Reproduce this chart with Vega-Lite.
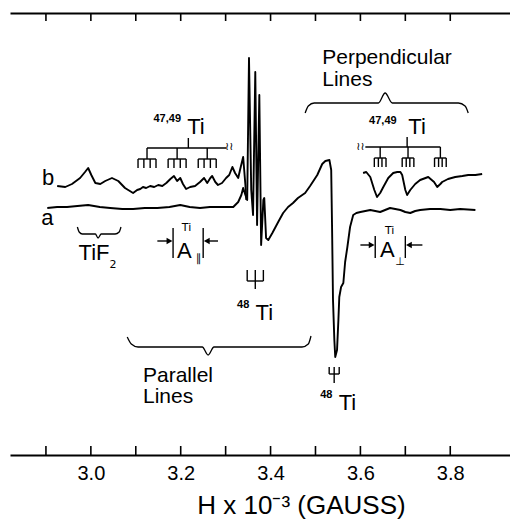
{
"$schema":"https://vega.github.io/schema/vega-lite/v6.json",
"width":500,"height":442,
"autosize":{"type":"none"},
"padding":{"left":10,"top":13,"right":0,"bottom":65},
"background":"white",
"config":{"view":{"stroke":null},"font":"Liberation Sans"},
"datasets":{
"spectrum":[
{"trace":"a","x":2.903,"y":247},{"trace":"a","x":2.925,"y":248},{"trace":"a","x":2.947,"y":248},{"trace":"a","x":2.970,"y":249},{"trace":"a","x":2.994,"y":250},{"trace":"a","x":3.020,"y":248},{"trace":"a","x":3.043,"y":247},{"trace":"a","x":3.070,"y":246},{"trace":"a","x":3.094,"y":246},{"trace":"a","x":3.120,"y":247},{"trace":"a","x":3.148,"y":247},{"trace":"a","x":3.175,"y":248},{"trace":"a","x":3.199,"y":250},{"trace":"a","x":3.220,"y":248},{"trace":"a","x":3.243,"y":247},{"trace":"a","x":3.265,"y":248},{"trace":"a","x":3.288,"y":248},{"trace":"a","x":3.317,"y":248},{"trace":"a","x":3.328,"y":253},{"trace":"a","x":3.335,"y":260},{"trace":"a","x":3.339,"y":267},{"trace":"a","x":3.344,"y":260},{"trace":"a","x":3.348,"y":255},{"trace":"a","x":3.352,"y":397},{"trace":"a","x":3.357,"y":265},{"trace":"a","x":3.361,"y":240},{"trace":"a","x":3.366,"y":383},{"trace":"a","x":3.370,"y":230},{"trace":"a","x":3.375,"y":360},{"trace":"a","x":3.379,"y":210},{"trace":"a","x":3.384,"y":255},{"trace":"a","x":3.386,"y":257},{"trace":"a","x":3.390,"y":217},{"trace":"a","x":3.395,"y":215},{"trace":"a","x":3.404,"y":222},{"trace":"a","x":3.417,"y":233},{"trace":"a","x":3.428,"y":242},{"trace":"a","x":3.439,"y":248},{"trace":"a","x":3.450,"y":252},{"trace":"a","x":3.461,"y":257},{"trace":"a","x":3.477,"y":262},{"trace":"a","x":3.488,"y":269},{"trace":"a","x":3.504,"y":280},{"trace":"a","x":3.515,"y":291},{"trace":"a","x":3.522,"y":294},{"trace":"a","x":3.531,"y":295},{"trace":"a","x":3.535,"y":285},{"trace":"a","x":3.537,"y":225},{"trace":"a","x":3.539,"y":155},{"trace":"a","x":3.542,"y":115},{"trace":"a","x":3.544,"y":98},{"trace":"a","x":3.548,"y":105},{"trace":"a","x":3.551,"y":135},{"trace":"a","x":3.553,"y":158},{"trace":"a","x":3.557,"y":168},{"trace":"a","x":3.562,"y":172},{"trace":"a","x":3.566,"y":193},{"trace":"a","x":3.571,"y":208},{"trace":"a","x":3.577,"y":228},{"trace":"a","x":3.584,"y":240},{"trace":"a","x":3.591,"y":242},{"trace":"a","x":3.600,"y":243},{"trace":"a","x":3.622,"y":245},{"trace":"a","x":3.644,"y":243},{"trace":"a","x":3.666,"y":247},{"trace":"a","x":3.689,"y":245},{"trace":"a","x":3.700,"y":243},{"trace":"a","x":3.711,"y":242},{"trace":"a","x":3.722,"y":244},{"trace":"a","x":3.733,"y":245},{"trace":"a","x":3.755,"y":246},{"trace":"a","x":3.778,"y":246},{"trace":"a","x":3.800,"y":245},{"trace":"a","x":3.822,"y":246},{"trace":"a","x":3.856,"y":245},
{"trace":"b","x":2.925,"y":269},{"trace":"b","x":2.943,"y":268},{"trace":"b","x":2.958,"y":271},{"trace":"b","x":2.976,"y":277},{"trace":"b","x":2.987,"y":283},{"trace":"b","x":2.994,"y":287},{"trace":"b","x":3.001,"y":280},{"trace":"b","x":3.010,"y":272},{"trace":"b","x":3.021,"y":271},{"trace":"b","x":3.032,"y":274},{"trace":"b","x":3.047,"y":277},{"trace":"b","x":3.061,"y":274},{"trace":"b","x":3.076,"y":267},{"trace":"b","x":3.094,"y":262},{"trace":"b","x":3.103,"y":265},{"trace":"b","x":3.110,"y":266},{"trace":"b","x":3.116,"y":268},{"trace":"b","x":3.123,"y":267},{"trace":"b","x":3.132,"y":269},{"trace":"b","x":3.141,"y":268},{"trace":"b","x":3.150,"y":270},{"trace":"b","x":3.159,"y":269},{"trace":"b","x":3.168,"y":272},{"trace":"b","x":3.177,"y":276},{"trace":"b","x":3.185,"y":279},{"trace":"b","x":3.192,"y":274},{"trace":"b","x":3.199,"y":277},{"trace":"b","x":3.205,"y":271},{"trace":"b","x":3.212,"y":266},{"trace":"b","x":3.221,"y":268},{"trace":"b","x":3.232,"y":269},{"trace":"b","x":3.243,"y":273},{"trace":"b","x":3.252,"y":277},{"trace":"b","x":3.259,"y":272},{"trace":"b","x":3.266,"y":277},{"trace":"b","x":3.270,"y":279},{"trace":"b","x":3.277,"y":273},{"trace":"b","x":3.283,"y":270},{"trace":"b","x":3.292,"y":272},{"trace":"b","x":3.301,"y":277},{"trace":"b","x":3.308,"y":280},{"trace":"b","x":3.315,"y":288},{"trace":"b","x":3.321,"y":282},{"trace":"b","x":3.328,"y":277},{"trace":"b","x":3.332,"y":285},{"trace":"b","x":3.339,"y":298},{"trace":"b","x":3.344,"y":270},{"trace":"b","x":3.346,"y":255},
{"trace":"b2","x":3.606,"y":282},{"trace":"b2","x":3.613,"y":283},{"trace":"b2","x":3.622,"y":278},{"trace":"b2","x":3.631,"y":265},{"trace":"b2","x":3.637,"y":258},{"trace":"b2","x":3.644,"y":262},{"trace":"b2","x":3.651,"y":268},{"trace":"b2","x":3.662,"y":277},{"trace":"b2","x":3.673,"y":282},{"trace":"b2","x":3.682,"y":283},{"trace":"b2","x":3.689,"y":283},{"trace":"b2","x":3.693,"y":280},{"trace":"b2","x":3.700,"y":265},{"trace":"b2","x":3.704,"y":260},{"trace":"b2","x":3.711,"y":265},{"trace":"b2","x":3.722,"y":271},{"trace":"b2","x":3.733,"y":275},{"trace":"b2","x":3.751,"y":278},{"trace":"b2","x":3.764,"y":273},{"trace":"b2","x":3.771,"y":268},{"trace":"b2","x":3.778,"y":271},{"trace":"b2","x":3.782,"y":273},{"trace":"b2","x":3.795,"y":276},{"trace":"b2","x":3.811,"y":278},{"trace":"b2","x":3.827,"y":279},{"trace":"b2","x":3.840,"y":280},{"trace":"b2","x":3.856,"y":280},{"trace":"b2","x":3.871,"y":281}
],
"ticks":[{"x":2.9},{"x":3.0},{"x":3.1},{"x":3.2},{"x":3.3},{"x":3.4},{"x":3.5},{"x":3.6},{"x":3.7},{"x":3.8}],
"braces":[
{"g":"tif","x":2.970,"y":228},{"g":"tif","x":2.974,"y":223},{"g":"tif","x":2.981,"y":221},{"g":"tif","x":3.010,"y":221},{"g":"tif","x":3.016,"y":217},{"g":"tif","x":3.023,"y":221},{"g":"tif","x":3.054,"y":221},{"g":"tif","x":3.063,"y":223},{"g":"tif","x":3.067,"y":228},
{"g":"perp","x":3.477,"y":342},{"g":"perp","x":3.484,"y":349},{"g":"perp","x":3.497,"y":352},{"g":"perp","x":3.640,"y":352},{"g":"perp","x":3.655,"y":362},{"g":"perp","x":3.671,"y":352},{"g":"perp","x":3.818,"y":352},{"g":"perp","x":3.833,"y":349},{"g":"perp","x":3.840,"y":342},
{"g":"par","x":3.081,"y":118},{"g":"par","x":3.090,"y":111},{"g":"par","x":3.105,"y":108},{"g":"par","x":3.248,"y":108},{"g":"par","x":3.261,"y":100},{"g":"par","x":3.274,"y":108},{"g":"par","x":3.470,"y":108},{"g":"par","x":3.484,"y":111},{"g":"par","x":3.490,"y":119}
],
"segments":[
{"x":3.217,"y":307,"x2":3.217,"y2":317},{"x":3.125,"y":307,"x2":3.301,"y2":307},
{"x":3.125,"y":307,"x2":3.125,"y2":296},{"x":3.192,"y":307,"x2":3.192,"y2":296},{"x":3.259,"y":307,"x2":3.259,"y2":296},
{"x":3.105,"y":296,"x2":3.145,"y2":296},{"x":3.172,"y":296,"x2":3.212,"y2":296},{"x":3.239,"y":296,"x2":3.279,"y2":296},
{"x":3.105,"y":296,"x2":3.105,"y2":287},{"x":3.118,"y":296,"x2":3.118,"y2":287},{"x":3.132,"y":296,"x2":3.132,"y2":287},{"x":3.145,"y":296,"x2":3.145,"y2":287},
{"x":3.172,"y":296,"x2":3.172,"y2":287},{"x":3.185,"y":296,"x2":3.185,"y2":287},{"x":3.199,"y":296,"x2":3.199,"y2":287},{"x":3.212,"y":296,"x2":3.212,"y2":287},
{"x":3.239,"y":296,"x2":3.239,"y2":287},{"x":3.252,"y":296,"x2":3.252,"y2":287},{"x":3.266,"y":296,"x2":3.266,"y2":287},{"x":3.279,"y":296,"x2":3.279,"y2":287},
{"x":3.704,"y":308,"x2":3.704,"y2":318},{"x":3.611,"y":308,"x2":3.778,"y2":308},
{"x":3.644,"y":308,"x2":3.644,"y2":297},{"x":3.706,"y":308,"x2":3.706,"y2":297},{"x":3.778,"y":308,"x2":3.778,"y2":297},
{"x":3.631,"y":297,"x2":3.657,"y2":297},{"x":3.693,"y":297,"x2":3.719,"y2":297},{"x":3.765,"y":297,"x2":3.791,"y2":297},
{"x":3.631,"y":297,"x2":3.631,"y2":288},{"x":3.640,"y":297,"x2":3.640,"y2":288},{"x":3.648,"y":297,"x2":3.648,"y2":288},{"x":3.657,"y":297,"x2":3.657,"y2":288},
{"x":3.693,"y":297,"x2":3.693,"y2":288},{"x":3.702,"y":297,"x2":3.702,"y2":288},{"x":3.710,"y":297,"x2":3.710,"y2":288},{"x":3.719,"y":297,"x2":3.719,"y2":288},
{"x":3.765,"y":297,"x2":3.765,"y2":288},{"x":3.774,"y":297,"x2":3.774,"y2":288},{"x":3.782,"y":297,"x2":3.782,"y2":288},{"x":3.791,"y":297,"x2":3.791,"y2":288},
{"x":3.183,"y":197,"x2":3.183,"y2":227},{"x":3.250,"y":197,"x2":3.250,"y2":227},
{"x":3.148,"y":214,"x2":3.174,"y2":214},{"x":3.259,"y":214,"x2":3.283,"y2":214},
{"x":3.633,"y":197,"x2":3.633,"y2":219},{"x":3.700,"y":197,"x2":3.700,"y2":219},
{"x":3.600,"y":210,"x2":3.624,"y2":210},{"x":3.709,"y":210,"x2":3.738,"y2":210},
{"x":3.348,"y":174,"x2":3.348,"y2":185},{"x":3.366,"y":174,"x2":3.366,"y2":185},{"x":3.384,"y":174,"x2":3.384,"y2":185},{"x":3.348,"y":174,"x2":3.384,"y2":174},{"x":3.366,"y":174,"x2":3.366,"y2":166},
{"x":3.5305,"y":81,"x2":3.5305,"y2":88},{"x":3.5416,"y":81,"x2":3.5416,"y2":88},{"x":3.5528,"y":81,"x2":3.5528,"y2":88},{"x":3.5305,"y":81,"x2":3.5528,"y2":81},{"x":3.5416,"y":81,"x2":3.5416,"y2":72}
],
"heads":[
{"x":3.175,"y":214,"dir":"right"},{"x":3.258,"y":214,"dir":"left"},
{"x":3.625,"y":210,"dir":"right"},{"x":3.708,"y":210,"dir":"left"}
],
"bigText":[
{"x":3.515,"y":397,"t":"Perpendicular"},{"x":3.515,"y":375,"t":"Lines"},
{"x":3.116,"y":79,"t":"Parallel"},{"x":3.116,"y":58,"t":"Lines"}
],
"midText":[
{"x":3.234,"y":328,"t":"Ti"},{"x":3.726,"y":328,"t":"Ti"},{"x":3.386,"y":142,"t":"Ti"},{"x":3.571,"y":52,"t":"Ti"},
{"x":3.007,"y":202,"t":"TiF"},{"x":3.208,"y":204,"t":"A"},{"x":3.660,"y":205,"t":"A"},
{"x":2.903,"y":237,"t":"a"},{"x":2.905,"y":277,"t":"b"}
],
"boldText":[
{"x":3.170,"y":336,"t":"47,49"},{"x":3.650,"y":334,"t":"47,49"},{"x":3.339,"y":150,"t":"48"},{"x":3.524,"y":60,"t":"48"}
],
"smallText":[
{"x":3.213,"y":227,"t":"Ti"},{"x":3.240,"y":196,"t":"∥"},{"x":3.665,"y":224,"t":"Ti"},{"x":3.688,"y":193,"t":"⊥"},
{"x":3.049,"y":190,"t":"2"},{"x":3.308,"y":308,"t":"≀≀"},{"x":3.600,"y":308,"t":"≀≀"}
]
},
"layer":[
{"data":{"name":"spectrum"},
 "mark":{"type":"line","color":"black","strokeWidth":1.9,"strokeJoin":"round","clip":false},
 "encoding":{
  "x":{"field":"x","type":"quantitative","scale":{"domain":[2.82,3.933],"nice":false,"zero":false},
   "axis":{"orient":"bottom","values":[3.0,3.2,3.4,3.6,3.8],"format":".1f",
    "ticks":false,"tickSize":0,"domainColor":"black","domainWidth":2,"grid":false,
    "labelFontSize":20,"labelColor":"black","labelPadding":8,"labelFont":"Liberation Sans",
    "title":"H x 10⁻³ (GAUSS)","titleFontSize":26,"titleFontWeight":"normal","titleColor":"black","titleFont":"Liberation Sans",
    "titleX":291,"titleY":58,"titleBaseline":"alphabetic","titleAlign":"center","titleAngle":0}},
  "y":{"field":"y","type":"quantitative","scale":{"domain":[0,442],"nice":false,"zero":false},
   "axis":{"orient":"left","domain":true,"domainColor":"black","domainWidth":2,"ticks":false,"labels":false,"grid":false,"title":null}},
  "detail":{"field":"trace","type":"nominal"}}},
{"data":{"name":"braces"},
 "mark":{"type":"line","color":"black","strokeWidth":1.3,"interpolate":"monotone"},
 "encoding":{
  "x":{"field":"x","type":"quantitative","scale":{"domain":[2.82,3.933],"nice":false,"zero":false},
   "axis":{"orient":"top","labels":false,"ticks":false,"domainColor":"black","domainWidth":2,"grid":false,"title":null}},
  "y":{"field":"y","type":"quantitative","scale":{"domain":[0,442],"nice":false,"zero":false},"axis":null},
  "detail":{"field":"g","type":"nominal"}}},
{"data":{"name":"ticks"},
 "mark":{"type":"rule","color":"black","strokeWidth":1.6},
 "encoding":{
  "x":{"field":"x","type":"quantitative","scale":{"domain":[2.82,3.933],"nice":false,"zero":false},"axis":null},
  "y":{"datum":0,"scale":{"domain":[0,442],"nice":false,"zero":false},"axis":null},
  "y2":{"datum":9}}},
{"data":{"name":"ticks"},
 "mark":{"type":"rule","color":"black","strokeWidth":1.6},
 "encoding":{
  "x":{"field":"x","type":"quantitative","scale":{"domain":[2.82,3.933],"nice":false,"zero":false},"axis":null},
  "y":{"datum":442,"scale":{"domain":[0,442],"nice":false,"zero":false},"axis":null},
  "y2":{"datum":434}}},
{"data":{"name":"segments"},
 "mark":{"type":"rule","color":"black","strokeWidth":1.4},
 "encoding":{
  "x":{"field":"x","type":"quantitative","scale":{"domain":[2.82,3.933],"nice":false,"zero":false},"axis":null},
  "y":{"field":"y","type":"quantitative","scale":{"domain":[0,442],"nice":false,"zero":false},"axis":null},
  "x2":{"field":"x2"},"y2":{"field":"y2"}}},
{"data":{"name":"heads"},
 "mark":{"type":"point","filled":true,"color":"black","opacity":1,"size":45},
 "encoding":{
  "x":{"field":"x","type":"quantitative","scale":{"domain":[2.82,3.933],"nice":false,"zero":false},"axis":null},
  "y":{"field":"y","type":"quantitative","scale":{"domain":[0,442],"nice":false,"zero":false},"axis":null},
  "shape":{"field":"dir","type":"nominal","scale":{"domain":["right","left"],"range":["triangle-right","triangle-left"]},"legend":null}}},
{"data":{"name":"bigText"},
 "mark":{"type":"text","align":"left","baseline":"middle","fontSize":21,"color":"black","font":"Liberation Sans"},
 "encoding":{
  "x":{"field":"x","type":"quantitative","scale":{"domain":[2.82,3.933],"nice":false,"zero":false},"axis":null},
  "y":{"field":"y","type":"quantitative","scale":{"domain":[0,442],"nice":false,"zero":false},"axis":null},
  "text":{"field":"t"}}},
{"data":{"name":"midText"},
 "mark":{"type":"text","align":"center","baseline":"middle","fontSize":22,"color":"black","font":"Liberation Sans"},
 "encoding":{
  "x":{"field":"x","type":"quantitative","scale":{"domain":[2.82,3.933],"nice":false,"zero":false},"axis":null},
  "y":{"field":"y","type":"quantitative","scale":{"domain":[0,442],"nice":false,"zero":false},"axis":null},
  "text":{"field":"t"}}},
{"data":{"name":"boldText"},
 "mark":{"type":"text","align":"center","baseline":"middle","fontSize":11,"fontWeight":"bold","color":"black","font":"Liberation Sans"},
 "encoding":{
  "x":{"field":"x","type":"quantitative","scale":{"domain":[2.82,3.933],"nice":false,"zero":false},"axis":null},
  "y":{"field":"y","type":"quantitative","scale":{"domain":[0,442],"nice":false,"zero":false},"axis":null},
  "text":{"field":"t"}}},
{"data":{"name":"smallText"},
 "mark":{"type":"text","align":"center","baseline":"middle","fontSize":11,"color":"black","font":"DejaVu Sans"},
 "encoding":{
  "x":{"field":"x","type":"quantitative","scale":{"domain":[2.82,3.933],"nice":false,"zero":false},"axis":null},
  "y":{"field":"y","type":"quantitative","scale":{"domain":[0,442],"nice":false,"zero":false},"axis":null},
  "text":{"field":"t"}}}
],
"resolve":{"axis":{"x":"independent"}}
}
